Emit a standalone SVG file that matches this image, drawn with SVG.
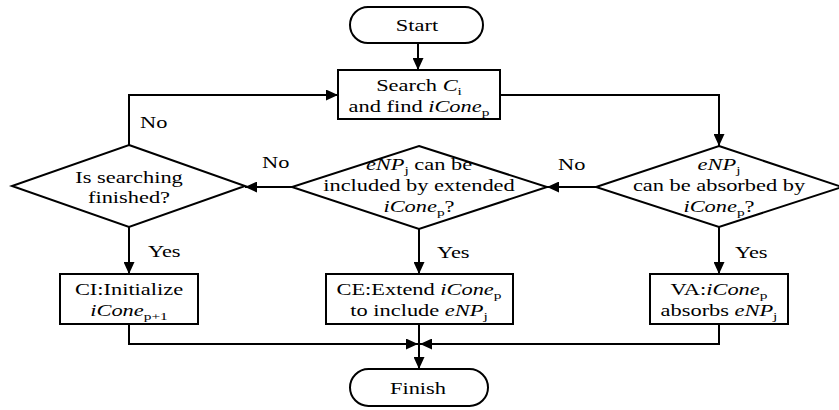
<svg xmlns="http://www.w3.org/2000/svg" width="839" height="410" viewBox="0 0 839 410">
<style>
.shape{fill:#fff;stroke:#000;stroke-width:2}
.conn{fill:none;stroke:#000;stroke-width:2}
.t{font-family:"Liberation Serif",serif;font-size:16px;fill:#000;text-anchor:middle}
.l{font-family:"Liberation Serif",serif;font-size:16px;fill:#000;text-anchor:start}
.i{font-style:italic}
.s{font-size:11px}
</style>
<defs>
<marker id="arr" markerWidth="12" markerHeight="11" refX="12" refY="5.5" orient="auto" markerUnits="userSpaceOnUse">
<path d="M0,0 L12,5.5 L0,11 z" fill="#000"/>
</marker>
</defs>
<g id="connectors">
<path class="conn" d="M418,43 V70" marker-end="url(#arr)"/>
<path class="conn" d="M129,145 V95 H338" marker-end="url(#arr)"/>
<path class="conn" d="M500,95 H719 V146" marker-end="url(#arr)"/>
<path class="conn" d="M596,187 H547" marker-end="url(#arr)"/>
<path class="conn" d="M292,187 H245" marker-end="url(#arr)"/>
<path class="conn" d="M129,227 V274" marker-end="url(#arr)"/>
<path class="conn" d="M419,229 V274" marker-end="url(#arr)"/>
<path class="conn" d="M719,227 V274" marker-end="url(#arr)"/>
<path class="conn" d="M129,324 V344 H418" marker-end="url(#arr)"/>
<path class="conn" d="M719,324 V344 H420" marker-end="url(#arr)"/>
<path class="conn" d="M419,324 V369" marker-end="url(#arr)"/>
<text class="l" transform="translate(140,128) scale(1.4,1)">No</text>
<text class="l" transform="translate(262,168) scale(1.4,1)">No</text>
<text class="l" transform="translate(558,170) scale(1.4,1)">No</text>
<text class="l" transform="translate(148,257) scale(1.4,1)">Yes</text>
<text class="l" transform="translate(437,258) scale(1.4,1)">Yes</text>
<text class="l" transform="translate(735,258) scale(1.4,1)">Yes</text>
</g>
<g id="start">
<rect class="shape" x="350" y="7" width="133" height="36" rx="18" ry="18"/>
<text class="t" transform="translate(417,31) scale(1.4,1)">Start</text>
</g>
<g id="search">
<rect class="shape" x="338" y="70" width="162" height="49"/>
<text class="t" transform="translate(419,91) scale(1.4,1)">Search <tspan class="i">C</tspan><tspan class="s" dy="4">i</tspan></text>
<text class="t" transform="translate(419,112) scale(1.4,1)">and find <tspan class="i">iCone</tspan><tspan class="s" dy="4">p</tspan></text>
</g>
<g id="searchFinished">
<polygon class="shape" points="129,145 245,186 129,227 12,186"/>
<text class="t" transform="translate(129,183) scale(1.4,1)">Is searching</text>
<text class="t" transform="translate(129,203) scale(1.4,1)">finished?</text>
</g>
<g id="included">
<polygon class="shape" points="419,146 547,187 419,229 292,187"/>
<text class="t" transform="translate(419,170) scale(1.4,1)"><tspan class="i">eNP</tspan><tspan class="s" dy="4">j</tspan><tspan dy="-4"> can be</tspan></text>
<text class="t" transform="translate(419,191) scale(1.4,1)">included by extended</text>
<text class="t" transform="translate(419,212) scale(1.4,1)"><tspan class="i">iCone</tspan><tspan class="s" dy="4">p</tspan><tspan dy="-4">?</tspan></text>
</g>
<g id="absorbed">
<polygon class="shape" points="719,146 842,187 719,227 596,187"/>
<text class="t" transform="translate(719,170) scale(1.4,1)"><tspan class="i">eNP</tspan><tspan class="s" dy="4">j</tspan></text>
<text class="t" transform="translate(719,191) scale(1.4,1)">can be absorbed by</text>
<text class="t" transform="translate(719,212) scale(1.4,1)"><tspan class="i">iCone</tspan><tspan class="s" dy="4">p</tspan><tspan dy="-4">?</tspan></text>
</g>
<g id="ci">
<rect class="shape" x="60" y="274" width="138" height="50"/>
<text class="t" transform="translate(129,295) scale(1.4,1)">CI:Initialize</text>
<text class="t" transform="translate(129,316) scale(1.4,1)"><tspan class="i">iCone</tspan><tspan class="s" dy="4">p+1</tspan></text>
</g>
<g id="ce">
<rect class="shape" x="326" y="274" width="187" height="50"/>
<text class="t" transform="translate(419,295) scale(1.4,1)">CE:Extend <tspan class="i">iCone</tspan><tspan class="s" dy="4">p</tspan></text>
<text class="t" transform="translate(419,316) scale(1.4,1)">to include <tspan class="i">eNP</tspan><tspan class="s" dy="4">j</tspan></text>
</g>
<g id="va">
<rect class="shape" x="650" y="274" width="138" height="50"/>
<text class="t" transform="translate(719,295) scale(1.4,1)">VA:<tspan class="i">iCone</tspan><tspan class="s" dy="4">p</tspan></text>
<text class="t" transform="translate(719,316) scale(1.4,1)">absorbs <tspan class="i">eNP</tspan><tspan class="s" dy="4">j</tspan></text>
</g>
<g id="finish">
<rect class="shape" x="350" y="369" width="138" height="37" rx="18.5" ry="18.5"/>
<text class="t" transform="translate(418,394) scale(1.4,1)">Finish</text>
</g>
</svg>
